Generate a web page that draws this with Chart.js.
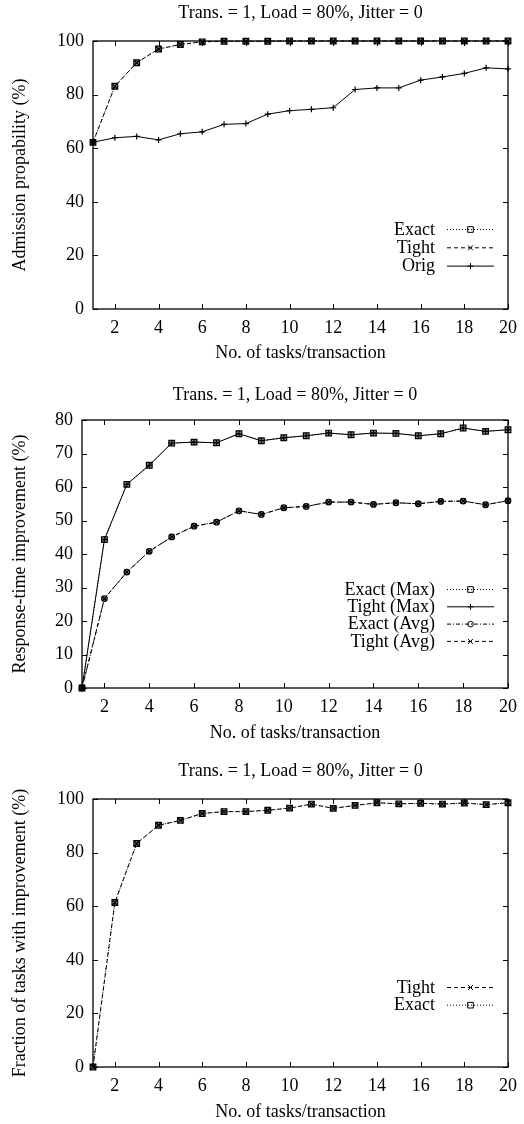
<!DOCTYPE html>
<html><head><meta charset="utf-8">
<script src="https://cdn.jsdelivr.net/npm/chart.js@4.4.0/dist/chart.umd.min.js"></script>
<style>
html,body{margin:0;padding:0;background:#fff;width:524px;height:1124px;overflow:hidden}
canvas{position:absolute;left:0}
</style></head>
<body>
<canvas id="c1" width="524" height="372" style="top:0px;width:524px;height:372px"></canvas>
<canvas id="c2" width="524" height="378" style="top:372px;width:524px;height:378px"></canvas>
<canvas id="c3" width="524" height="374" style="top:750px;width:524px;height:374px"></canvas>
<script>
// ---- data ----
const tasks = [1,2,3,4,5,6,7,8,9,10,11,12,13,14,15,16,17,18,19,20];
const xTickValues = [2,4,6,8,10,12,14,16,18,20];
const titleText = 'Trans. = 1, Load = 80%, Jitter = 0';
const xTitleText = 'No. of tasks/transaction';

const admExact = [62.2,83.1,91.9,97.0,98.7,99.7,99.9,99.9,99.9,100,100,100,100,100,100,100,100,100,100,100];
const admTight = [62.2,83.1,91.9,97.0,98.7,99.7,99.9,99.9,99.9,100,100,100,100,100,100,100,100,100,100,100];
const admOrig  = [62.2,63.9,64.4,63.1,65.4,66.1,68.9,69.2,72.7,74.0,74.5,75.1,81.9,82.5,82.5,85.4,86.6,87.9,90.0,89.6];

const rtExactMax = [0,44.3,60.8,66.5,73.1,73.4,73.2,75.9,73.8,74.7,75.3,76.1,75.6,76.1,76.0,75.3,75.9,77.6,76.6,77.1];
const rtTightMax = [0,44.3,60.8,66.5,73.1,73.4,73.2,75.9,73.8,74.7,75.3,76.1,75.6,76.1,76.0,75.3,75.9,77.6,76.6,77.1];
const rtExactAvg = [0,26.7,34.6,40.8,45.1,48.3,49.5,52.9,51.8,53.8,54.2,55.5,55.5,54.8,55.3,55.0,55.7,55.8,54.7,55.9];
const rtTightAvg = [0,26.7,34.6,40.8,45.1,48.3,49.5,52.9,51.8,53.8,54.2,55.5,55.5,54.8,55.3,55.0,55.7,55.8,54.7,55.9];

const fracTight = [0,61.4,83.4,90.2,92.0,94.6,95.3,95.3,95.8,96.6,98.1,96.5,97.6,98.6,98.2,98.4,98.1,98.5,97.9,98.6];
const fracExact = [0,61.4,83.4,90.2,92.0,94.6,95.3,95.3,95.8,96.6,98.1,96.5,97.6,98.6,98.2,98.4,98.1,98.5,97.9,98.6];

// ---- styling ----
const FONT = 'Liberation Serif';
const FS = 18, LH = FS * 1.2;
const PLOT_RIGHT = 508;
const DOT = [1,2], DASH = [4,3], DASHDOT = [4,2,1,2], SOLID = [];

function drawMarker(ctx, style, x, y, r) {
  ctx.beginPath();
  if (style === 'rect') {
    const s = Math.SQRT1_2 * r;
    ctx.rect(x - s, y - s, 2 * s, 2 * s);
  } else if (style === 'circle') {
    ctx.arc(x, y, r, 0, Math.PI * 2);
  } else if (style === 'cross') {
    ctx.moveTo(x - r, y); ctx.lineTo(x + r, y);
    ctx.moveTo(x, y - r); ctx.lineTo(x, y + r);
  } else if (style === 'crossRot') {
    const s = Math.SQRT1_2 * r;
    ctx.moveTo(x - s, y - s); ctx.lineTo(x + s, y + s);
    ctx.moveTo(x - s, y + s); ctx.lineTo(x + s, y - s);
  }
  ctx.stroke();
}

function makeChart(id, o) {
  const H = o.height;
  const font = {family: FONT, size: FS, lineHeight: 1.2};
  const framePlugin = {
    id: 'frame',
    afterDatasetsDraw(chart) {
      const {ctx, chartArea: {left, right, top, bottom}, scales: {x, y}} = chart;
      ctx.save();
      ctx.strokeStyle = '#000';
      ctx.lineWidth = 1.3;
      ctx.setLineDash([]);
      ctx.strokeRect(left, top, right - left, bottom - top);
      ctx.beginPath();
      ctx.lineWidth = 1;
      x.ticks.forEach(t => {
        const px = Math.round(x.getPixelForValue(t.value)) + 0.5;
        ctx.moveTo(px, bottom); ctx.lineTo(px, bottom - 5);
        ctx.moveTo(px, top); ctx.lineTo(px, top + 5);
      });
      y.ticks.forEach(t => {
        const py = Math.round(y.getPixelForValue(t.value)) + 0.5;
        ctx.moveTo(left, py); ctx.lineTo(left + 5, py);
        ctx.moveTo(right, py); ctx.lineTo(right - 5, py);
      });
      ctx.stroke();
      ctx.restore();
    },
    afterDraw(chart) {
      const {ctx, chartArea: {left, right}} = chart;
      ctx.save();
      ctx.fillStyle = '#000';
      ctx.font = FS + 'px "' + FONT + '"';
      ctx.textAlign = 'center';
      ctx.textBaseline = 'middle';
      ctx.fillText(titleText, (left + right) / 2, o.titleY);
      // legend
      ctx.textAlign = 'right';
      o.legend.forEach((idx, k) => {
        const ds = chart.data.datasets[idx];
        const yy = o.legendY + k * o.legendGap;
        ctx.fillStyle = '#000';
        ctx.fillText(ds.label, 435, yy + 1);
        ctx.strokeStyle = '#000';
        ctx.lineWidth = 1;
        ctx.setLineDash(ds.borderDash);
        ctx.beginPath();
        ctx.moveTo(447, yy + 0.5); ctx.lineTo(494, yy + 0.5);
        ctx.stroke();
        ctx.setLineDash([]);
        drawMarker(ctx, ds.pointStyle, 470.5, yy + 0.5, ds.pointRadius);
      });
      ctx.restore();
    }
  };
  return new Chart(document.getElementById(id), {
    type: 'line',
    data: {
      datasets: o.datasets.map(d => ({
        label: d.label,
        data: tasks.map((t, i) => ({x: t, y: d.values[i]})),
        borderColor: '#000',
        borderWidth: 1,
        borderDash: d.dash,
        pointStyle: d.point,
        pointRadius: d.r,
        pointBorderColor: '#000',
        pointBackgroundColor: 'rgba(0,0,0,0.45)',
        pointBorderWidth: 1.2,
        tension: 0,
        fill: false,
        clip: false
      }))
    },
    options: {
      responsive: false,
      animation: false,
      devicePixelRatio: 1,
      layout: {padding: {left: 0, right: 524 - PLOT_RIGHT, top: o.plotTop, bottom: 0}},
      plugins: {legend: {display: false}, tooltip: {enabled: false}, title: {display: false}},
      scales: {
        x: {
          type: 'linear', min: 1, max: 20,
          grid: {display: false, drawTicks: false},
          border: {display: false},
          ticks: {font, color: '#000', padding: 8, maxRotation: 0, autoSkip: false},
          title: {display: true, text: xTitleText, font, color: '#000',
                  padding: {top: 0, bottom: H - o.xTitleY - LH / 2}},
          afterBuildTicks: s => { s.ticks = xTickValues.map(v => ({value: v})); },
          afterFit: s => { s.height = H - o.plotBottom; s.paddingLeft = 0; s.paddingRight = 0; }
        },
        y: {
          type: 'linear', min: 0, max: o.yMax,
          grid: {display: false, drawTicks: false},
          border: {display: false},
          ticks: {stepSize: o.yStep, font, color: '#000', padding: 9},
          title: {display: true, text: o.yTitle, font, color: '#000',
                  padding: {top: 20 - LH / 2, bottom: 0}},
          afterFit: s => { s.width = o.plotLeft; s.paddingTop = 0; s.paddingBottom = 0; }
        }
      }
    },
    plugins: [framePlugin]
  });
}

makeChart('c1', {
  height: 372, plotTop: 41, plotBottom: 309, plotLeft: 93, titleY: 13, xTitleY: 353,
  yMax: 100, yStep: 20, yTitle: 'Admission propability (%)',
  legend: [0, 1, 2], legendY: 229, legendGap: 18.3,
  datasets: [
    {label: 'Exact', values: admExact, dash: DOT, point: 'rect', r: 4},
    {label: 'Tight', values: admTight, dash: DASH, point: 'crossRot', r: 3.5},
    {label: 'Orig', values: admOrig, dash: SOLID, point: 'cross', r: 3}
  ]
});

makeChart('c2', {
  height: 378, plotTop: 48, plotBottom: 316, plotLeft: 82, titleY: 23, xTitleY: 361,
  yMax: 80, yStep: 10, yTitle: 'Response-time improvement (%)',
  legend: [0, 1, 2, 3], legendY: 217, legendGap: 17.3,
  datasets: [
    {label: 'Exact (Max)', values: rtExactMax, dash: DOT, point: 'rect', r: 4},
    {label: 'Tight (Max)', values: rtTightMax, dash: SOLID, point: 'cross', r: 3},
    {label: 'Exact (Avg)', values: rtExactAvg, dash: DASHDOT, point: 'circle', r: 2.8},
    {label: 'Tight (Avg)', values: rtTightAvg, dash: DASH, point: 'crossRot', r: 3.5}
  ]
});

makeChart('c3', {
  height: 374, plotTop: 49, plotBottom: 317, plotLeft: 93, titleY: 21, xTitleY: 362,
  yMax: 100, yStep: 20, yTitle: 'Fraction of tasks with improvement (%)',
  legend: [0, 1], legendY: 237, legendGap: 17.7,
  datasets: [
    {label: 'Tight', values: fracTight, dash: DASH, point: 'crossRot', r: 3.5},
    {label: 'Exact', values: fracExact, dash: DOT, point: 'rect', r: 4}
  ]
});
</script>
</body></html>
